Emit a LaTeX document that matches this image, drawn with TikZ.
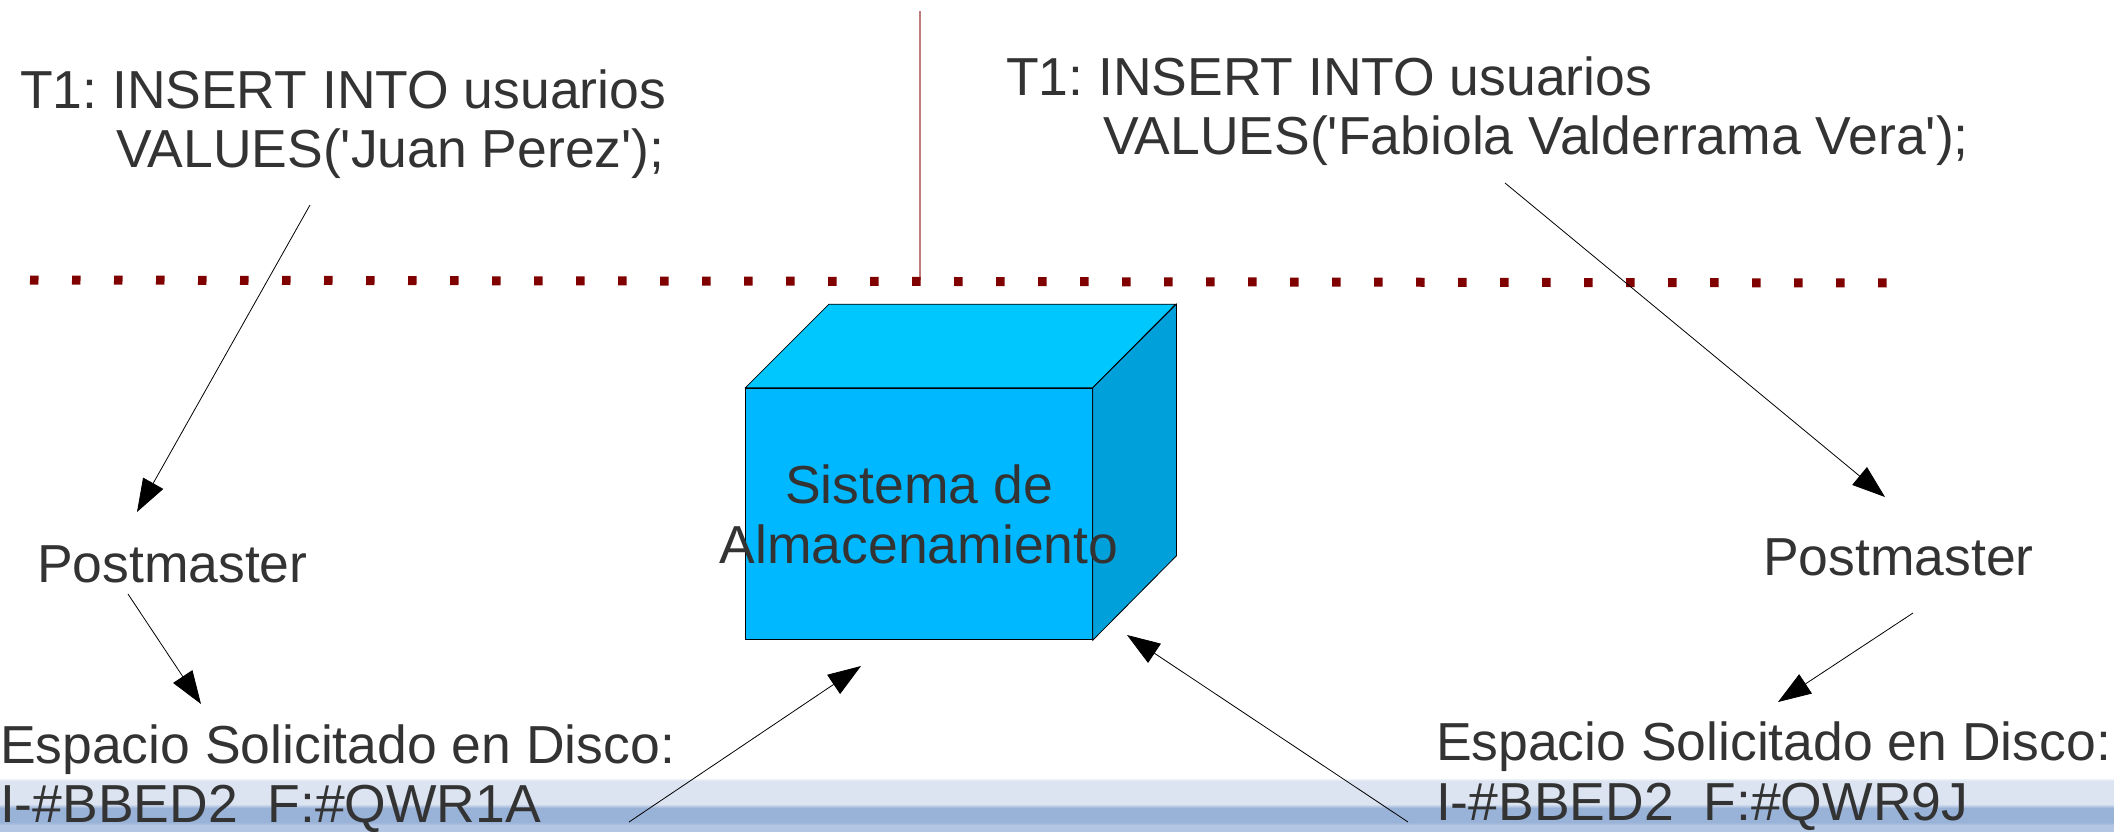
\documentclass[tikz,border=0pt]{standalone}
\usepackage{fontspec}
\setmainfont{Liberation Sans}
\usetikzlibrary{arrows.meta}
\frenchspacing

\definecolor{txtgray}{HTML}{333333}
\definecolor{dotred}{HTML}{800000}
\definecolor{guide}{HTML}{C07C7C}
\definecolor{cubetop}{HTML}{00C8FF}
\definecolor{cubefront}{HTML}{00B8FF}
\definecolor{cubeside}{HTML}{00A0DA}
\definecolor{bandtop}{HTML}{EEF2F9}
\definecolor{bandlight}{HTML}{DCE4F1}
\definecolor{banddark}{HTML}{99B2D8}
\definecolor{bandfoot}{HTML}{B3C6E3}

% footer strip: light band over a darker blue band
\pgfdeclareverticalshading{footerband}{100bp}{%
  color(0bp)=(bandfoot); color(30.8bp)=(bandfoot);
  color(33.6bp)=(banddark); color(47.1bp)=(banddark);
  color(51bp)=(bandlight); color(73.1bp)=(bandlight);
  color(75bp)=(bandtop); color(100bp)=(bandtop)}

\tikzset{
  label/.style={font=\fontsize{53.5}{59}\selectfont, text=txtgray,
    inner sep=0pt, outer sep=0pt, anchor=base west},
  flow/.style={-{Triangle[length=33pt,width=23pt]}, line width=0.8pt, black},
  face/.style={draw=black, line width=0.8pt},
}

\begin{document}
\begin{tikzpicture}[x=1pt,y=-1pt]
\useasboundingbox (0,0) rectangle (2114,831);
\fill[white] (0,0) rectangle (2114,831);

% footer strip
\shade[shading=footerband] (0,779) rectangle (2114,831);

% thin vertical divider and dotted boundary
\coordinate (divtop) at (920,11);
\coordinate (divbot) at (920,280);
\draw[guide, line width=2pt] (divtop) -- (divbot);
\coordinate (dotl) at (30,280);
\coordinate (dotr) at (1892,283);
\draw[dotred, line width=9pt, dash pattern=on 8.5pt off 33.5pt] (dotl) -- (dotr);

% storage cube
\node[face, fill=cubefront, minimum width=346.6pt, minimum height=251.7pt,
      inner sep=0pt] (front) at (919,514) {};
\filldraw[face, fill=cubetop] (front.north west) -- ++(83.7,-83.6)
  -- ++(346.6,0) -- (front.north east) -- cycle;
\filldraw[face, fill=cubeside] (front.north east) -- ++(83.7,-83.6)
  -- ++(0,251.7) -- (front.south east) -- cycle;
\node[font=\fontsize{53.5}{60}\selectfont, text=txtgray, align=center,
      inner sep=0pt] (store) at (front.center) {Sistema de\\Almacenamiento};

% left transaction
\node[label] (q1a) at (20,108) {T1: INSERT INTO usuarios};
\node[label] (q1b) at (116,167) {VALUES(\textquotesingle Juan Perez\textquotesingle);};
\node[label] (pm1) at (37,582) {Postmaster};
\node[label] (es1a) at (0,763) {Espacio Solicitado en Disco:};
\node[label] (es1b) at (0,822) {I-\#BBED2\ \ F:\#QWR1A};

% right transaction
\node[label] (q2a) at (1006,95) {T1: INSERT INTO usuarios};
\node[label] (q2b) at (1103,154) {VALUES(\textquotesingle Fabiola Valderrama Vera\textquotesingle);};
\node[label] (pm2) at (1763,575) {Postmaster};
\node[label] (es2a) at (1436,760) {Espacio Solicitado en Disco:};
\node[label] (es2b) at (1436,820) {I-\#BBED2\ \ F:\#QWR9J};

% connector end points
\coordinate (l1s) at (310,205);
\coordinate (l1e) at (137,512);
\coordinate (l2s) at (128,594);
\coordinate (l2e) at (201,704);
\coordinate (l3s) at (629,822);
\coordinate (l3e) at (861,666);
\coordinate (r1s) at (1505,183);
\coordinate (r1e) at (1885,497);
\coordinate (r2s) at (1913,613);
\coordinate (r2e) at (1778,702);
\coordinate (r3s) at (1408,822);
\coordinate (r3e) at (1127,635);

\draw[flow] (l1s) -- (l1e);
\draw[flow] (l2s) -- (l2e);
\draw[flow] (l3s) -- (l3e);
\draw[flow] (r1s) -- (r1e);
\draw[flow] (r2s) -- (r2e);
\draw[flow] (r3s) -- (r3e);
\end{tikzpicture}
\end{document}
